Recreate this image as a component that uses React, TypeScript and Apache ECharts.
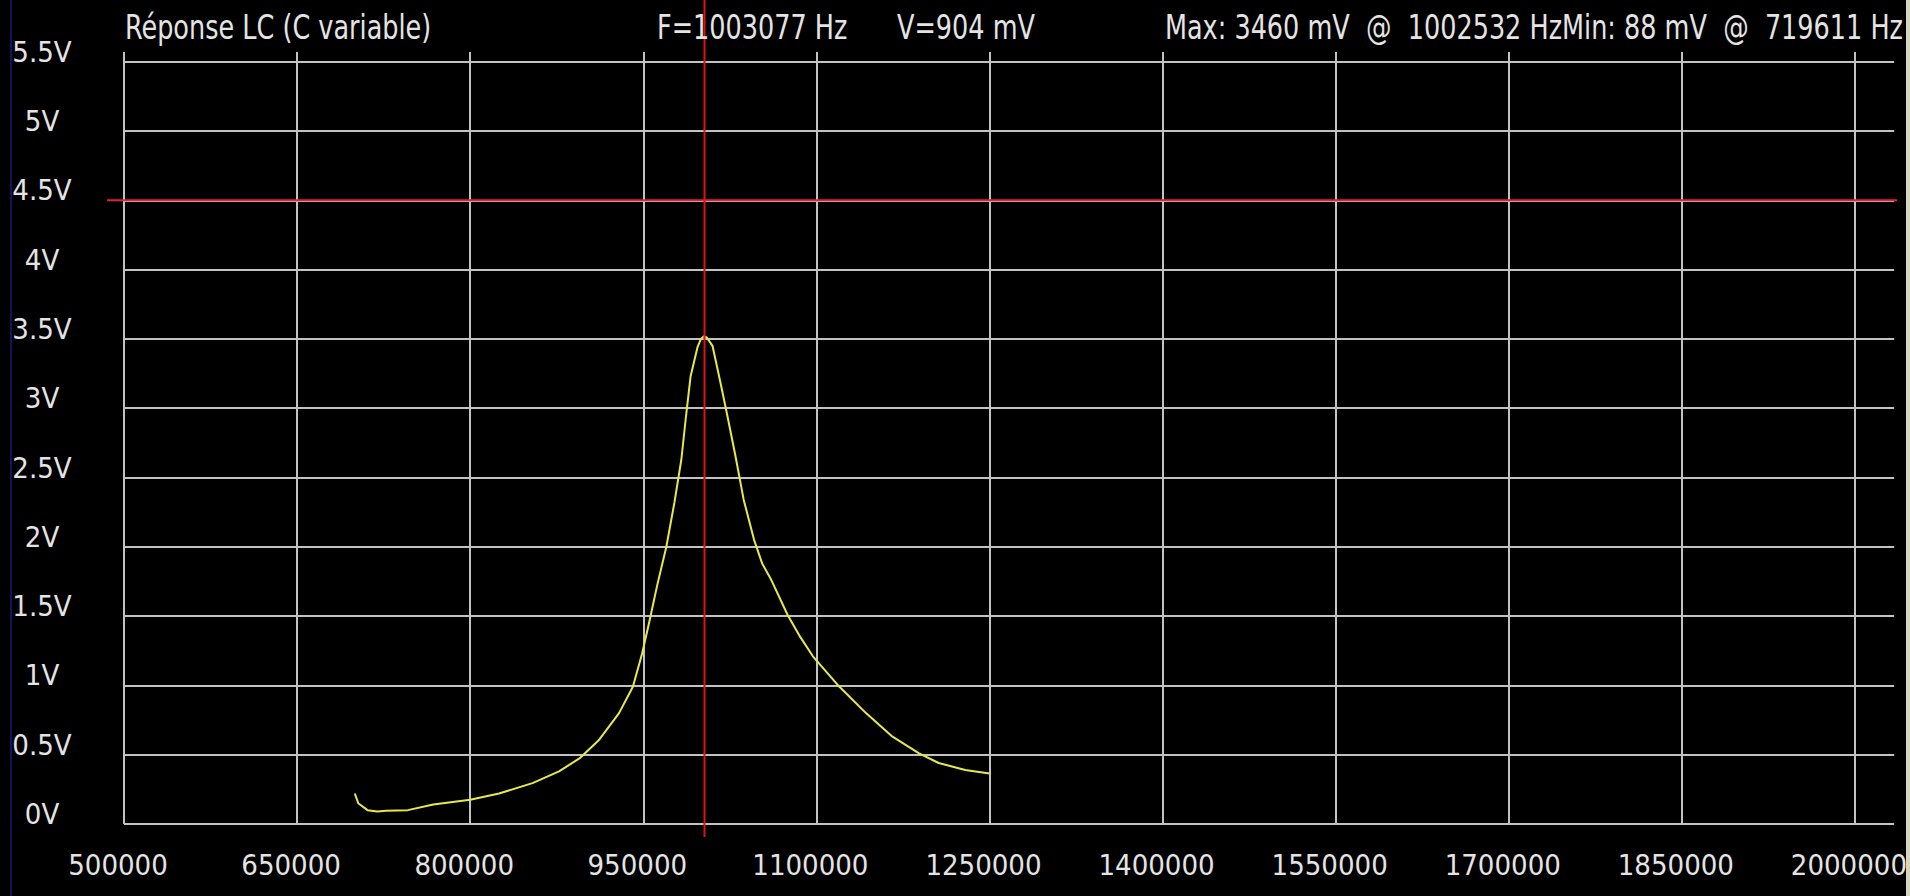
import React, { useEffect, useRef } from "react";
import * as echarts from "echarts";

// ---- data ----
const freqHz = [
  700000, 703000, 711000, 719611, 727000, 746000, 768000, 800000, 825000, 854000,
  877000, 895000, 912000, 929000, 941000, 949000, 955000, 962000, 970000, 977000,
  983000, 987000, 991000, 997000, 1000000, 1002532, 1005000, 1010000, 1017000, 1023000, 1030000, 1037000,
  1046000, 1053000, 1061000, 1075000, 1086000, 1097000, 1120000, 1143000, 1166000, 1189000,
  1206000, 1229000, 1250000,
];
const voltV = [
  0.22, 0.15, 0.1, 0.09, 0.095, 0.1, 0.14, 0.175, 0.22, 0.295,
  0.38, 0.475, 0.61, 0.8, 0.99, 1.23, 1.45, 1.72, 2.0, 2.32,
  2.63, 2.94, 3.23, 3.44, 3.5, 3.52, 3.51, 3.45, 3.18, 2.94, 2.65, 2.34,
  2.05, 1.88, 1.76, 1.51, 1.35, 1.21, 0.99, 0.8, 0.63, 0.51,
  0.44, 0.39, 0.365,
];
const xTicks = [500000, 650000, 800000, 950000, 1100000, 1250000, 1400000, 1550000, 1700000, 1850000, 2000000];
const yTicks = [0, 0.5, 1, 1.5, 2, 2.5, 3, 3.5, 4, 4.5, 5, 5.5];
const xMin = 500000;
const xMax = 2034000;
const yMin = 0;
const yMax = 5.57;
const cursorF = 1003077;
const cursorV = 4.5;

const titleText = "Réponse LC (C variable)";
const fText = "F=1003077 Hz";
const vText = "V=904 mV";
const maxMinText = "Max: 3460 mV  @  1002532 HzMin: 88 mV  @  719611 Hz";

const FONT = "'Liberation Sans Narrow', 'DejaVu Sans Condensed', 'Liberation Sans', Arial, sans-serif";
const TXT = "#e4e4e4";
const GRID = "#c2c2c2";

export default function App() {
  const ref = useRef<HTMLDivElement | null>(null);

  useEffect(() => {
    document.body.style.margin = "0";
    document.body.style.overflow = "hidden";
    if (!ref.current) return;
    const chart = echarts.init(ref.current, undefined, { renderer: "svg" });

    const option: any = {
      animation: false,
      backgroundColor: "#000000",
      grid: { left: 124, right: 13, top: 52, bottom: 72, containLabel: false },
      xAxis: {
        type: "value",
        min: xMin,
        max: xMax,
        interval: 150000,
        axisLine: { show: false },
        axisTick: { show: false },
        splitLine: { show: false },
        axisLabel: {
          showMaxLabel: false,
          color: TXT,
          fontFamily: FONT,
          fontSize: 29,
          margin: 26,
          padding: [0, 12, 0, 0],
          formatter: (v: number) => String(v),
        },
      },
      yAxis: {
        type: "value",
        min: yMin,
        max: yMax,
        interval: 0.5,
        axisLine: { show: false },
        axisTick: { show: false },
        splitLine: { show: false },
        axisLabel: {
          showMaxLabel: false,
          color: TXT,
          fontFamily: FONT,
          fontSize: 29,
          align: "center",
          verticalAlign: "bottom",
          lineHeight: 20,
          margin: 82,
          formatter: (v: number) => `${v}V`,
        },
      },
      series: [
        {
          type: "line",
          data: [],
          z: 1,
          silent: true,
          markLine: {
            silent: true,
            symbol: ["none", "none"],
            label: { show: false },
            emphasis: { disabled: true },
            animation: false,
            lineStyle: { color: GRID, width: 2, type: "solid" },
            data: [
              ...xTicks.map((v) => ({ xAxis: v })),
              ...yTicks.map((v) => ({ yAxis: v })),
            ],
          },
        },
        {
          type: "line",
          z: 5,
          data: freqHz.map((f, i) => [f, voltV[i]]),
          showSymbol: false,
          symbol: "none",
          smooth: false,
          lineStyle: { color: "#e8e84e", width: 2 },
          silent: true,
        },
      ],
    };
    chart.setOption(option);

    const p = chart.convertToPixel({ gridIndex: 0 }, [cursorF, cursorV]) as number[];
    const tl = chart.convertToPixel({ gridIndex: 0 }, [xMin, yMax]) as number[];
    const br = chart.convertToPixel({ gridIndex: 0 }, [xMax, yMin]) as number[];

    const textEl = (text: string, x: number, align: string) => ({
      type: "text",
      x,
      y: 27,
      scaleX: 0.86,
      z: 20,
      style: {
        text,
        fill: TXT,
        fontFamily: FONT,
        fontSize: 33,
        align,
        verticalAlign: "middle",
      },
    });

    chart.setOption({
      graphic: [
        { type: "rect", shape: { x: 10, y: 0, width: 2, height: 896 }, style: { fill: "#14145a" }, z: 30 },
        { type: "rect", shape: { x: 1906, y: 0, width: 4, height: 896 }, style: { fill: "#d6d6bc" }, z: 30 },
        {
          type: "line",
          z: 10,
          shape: { x1: tl[0] - 17, y1: p[1], x2: br[0] + 3, y2: p[1] },
          style: { stroke: "#e3203f", lineWidth: 2 },
        },
        {
          type: "line",
          z: 10,
          shape: { x1: p[0], y1: 0, x2: p[0], y2: br[1] + 13 },
          style: { stroke: "#d8141c", lineWidth: 2 },
        },
        textEl(titleText, 125, "left"),
        textEl(fText, 657, "left"),
        textEl(vText, 897, "left"),
        textEl(maxMinText, 1903, "right"),
      ],
    });

    return () => {
      chart.dispose();
    };
  }, []);

  return <div ref={ref} style={{ width: 1910, height: 896 }} />;
}
